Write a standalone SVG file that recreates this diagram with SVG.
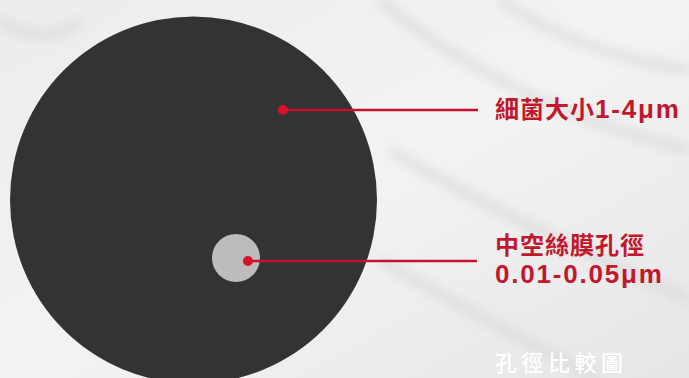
<svg xmlns="http://www.w3.org/2000/svg" width="689" height="378" viewBox="0 0 689 378">
<defs>
<linearGradient id="bg" x1="0" y1="0" x2="1" y2="1">
<stop offset="0" stop-color="#ececec"/>
<stop offset="0.5" stop-color="#f3f3f3"/>
<stop offset="1" stop-color="#e6e6e6"/>
</linearGradient>
<filter id="blur"><feGaussianBlur stdDeviation="6"/></filter>
</defs>
<style>
.lbl{font-family:"Liberation Sans","Noto Sans CJK TC",sans-serif;font-weight:bold;fill:#c1182e;font-size:24px}
.cjk{letter-spacing:1px}
.lat{letter-spacing:1.8px;font-size:26px}
.line{stroke:#c8102e;stroke-width:2.5;fill:none}
.dot{fill:#d8102e}
.cap{font-family:"Noto Sans CJK TC",sans-serif;font-weight:500;fill:#ffffff;font-size:22px;letter-spacing:4.5px}
</style>
<rect width="689" height="378" fill="url(#bg)"/>
<g filter="url(#blur)" stroke="#d2d2d2" stroke-width="8" fill="none" opacity="0.7">
<path d="M380 0 C450 60 560 120 689 150"/>
<path d="M390 150 C470 200 580 250 689 300"/>
<path d="M380 260 C450 300 520 340 600 378"/>
<path d="M0 20 C30 40 60 40 80 20"/>
<path d="M500 0 C560 40 620 60 689 70"/>
</g>
<g id="bacteria">
<circle cx="193.5" cy="200" r="183.5" fill="#333333"/>
</g>
<g id="pore">
<circle cx="236" cy="258" r="24" fill="#bcbcbc"/>
</g>
<g id="connectors">
<line class="line" x1="283" y1="110" x2="478" y2="110"/>
<circle class="dot" cx="283" cy="110" r="5"/>
<line class="line" x1="248" y1="261" x2="477" y2="261"/>
<circle class="dot" cx="248" cy="261" r="5"/>
</g>
<g id="label-bacteria">
<text class="lbl" x="495" y="118"><tspan class="cjk">細菌大小</tspan><tspan class="lat">1-4μm</tspan></text>
</g>
<g id="label-pore">
<text class="lbl cjk" x="495" y="254">中空絲膜孔徑</text>
<text class="lbl lat" x="495" y="283">0.01-0.05μm</text>
</g>
<g id="caption">
<text class="cap" x="495" y="371">孔徑比較圖</text>
</g>
</svg>
